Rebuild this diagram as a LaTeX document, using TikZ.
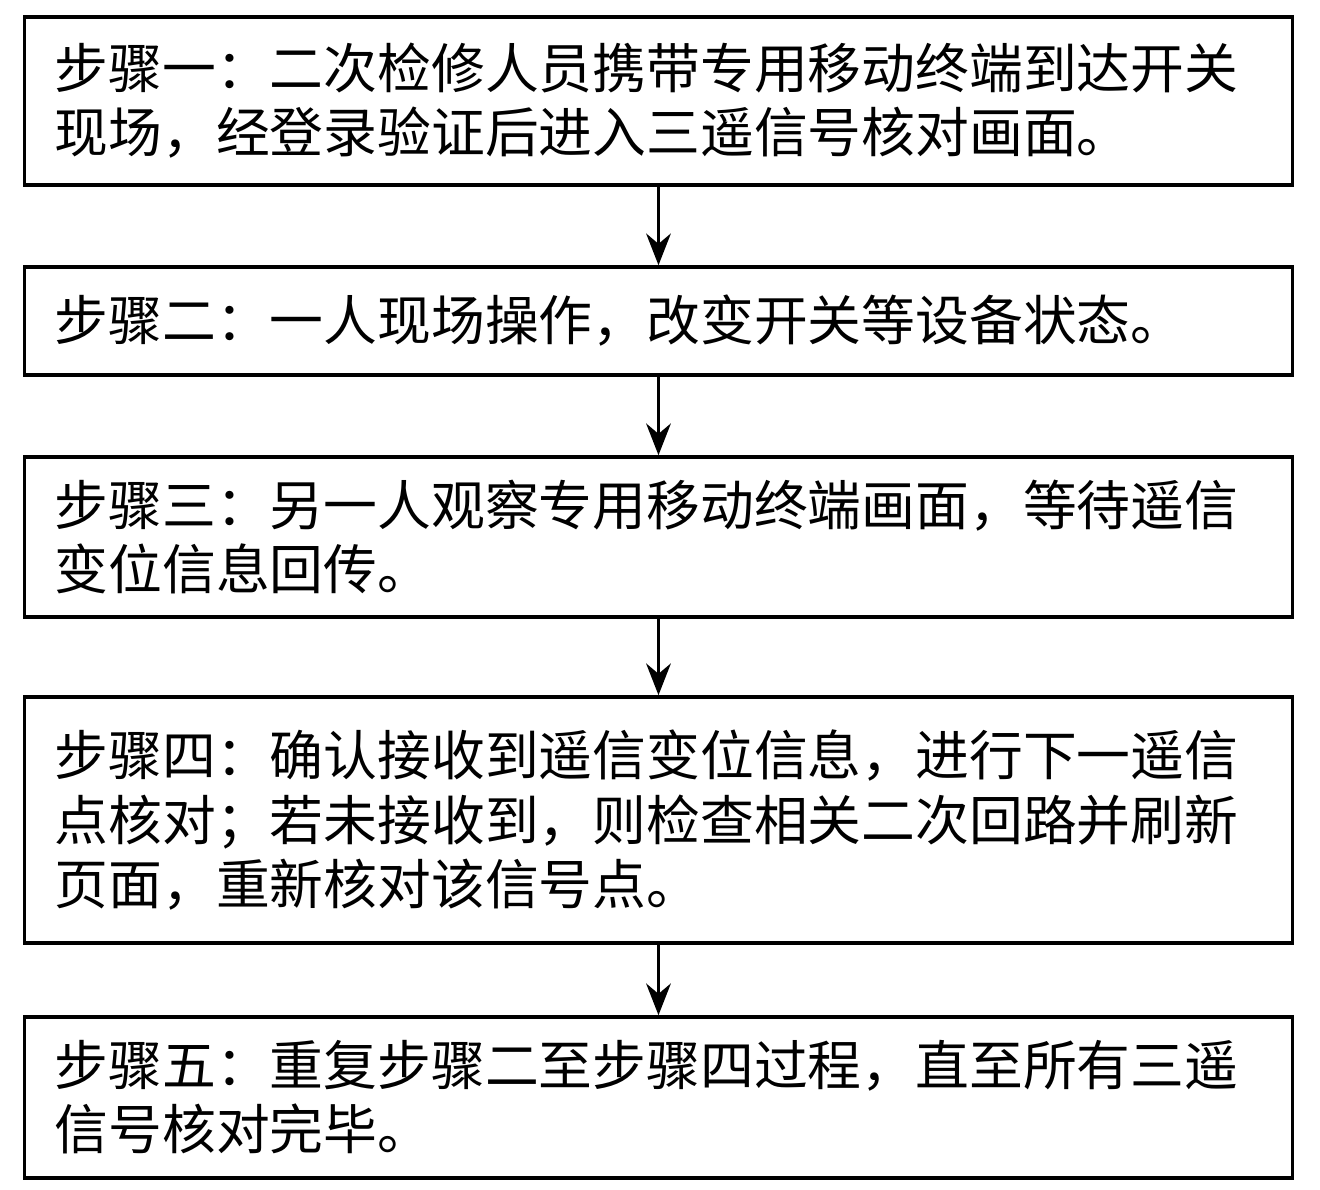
\documentclass[tikz,border=0pt]{standalone}
\usepackage{fontspec}
\newfontfamily\cjk{Noto Sans CJK SC}
\usetikzlibrary{arrows.meta}
\begin{document}
\begin{tikzpicture}[x=0.01cm,y=-0.01cm,
  stepbox/.style={draw,line width=1pt,minimum width=12.67cm,text width=12.07cm,inner xsep=0.3cm,align=left,font=\cjk\fontsize{15.3pt}{18.2pt}\selectfont},
  conn/.style={line width=1pt,-{Stealth[length=9pt,width=7pt]}}]
\useasboundingbox (0,0) rectangle (1320,1190);
\node[stepbox,minimum height=1.68cm] (s1) at (658.5,101) {步骤一：二次检修人员携带专用移动终端到达开关\\现场，经登录验证后进入三遥信号核对画面。};
\node[stepbox,minimum height=1.08cm] (s2) at (658.5,321) {步骤二：一人现场操作，改变开关等设备状态。};
\node[stepbox,minimum height=1.60cm] (s3) at (658.5,537) {步骤三：另一人观察专用移动终端画面，等待遥信\\变位信息回传。};
\node[stepbox,minimum height=2.46cm] (s4) at (658.5,820) {步骤四：确认接收到遥信变位信息，进行下一遥信\\点核对；若未接收到，则检查相关二次回路并刷新\\页面，重新核对该信号点。};
\node[stepbox,minimum height=1.61cm] (s5) at (658.5,1097.5) {步骤五：重复步骤二至步骤四过程，直至所有三遥\\信号核对完毕。};
\draw[conn] (s1) -- (s2);
\draw[conn] (s2) -- (s3);
\draw[conn] (s3) -- (s4);
\draw[conn] (s4) -- (s5);
\end{tikzpicture}
\end{document}
